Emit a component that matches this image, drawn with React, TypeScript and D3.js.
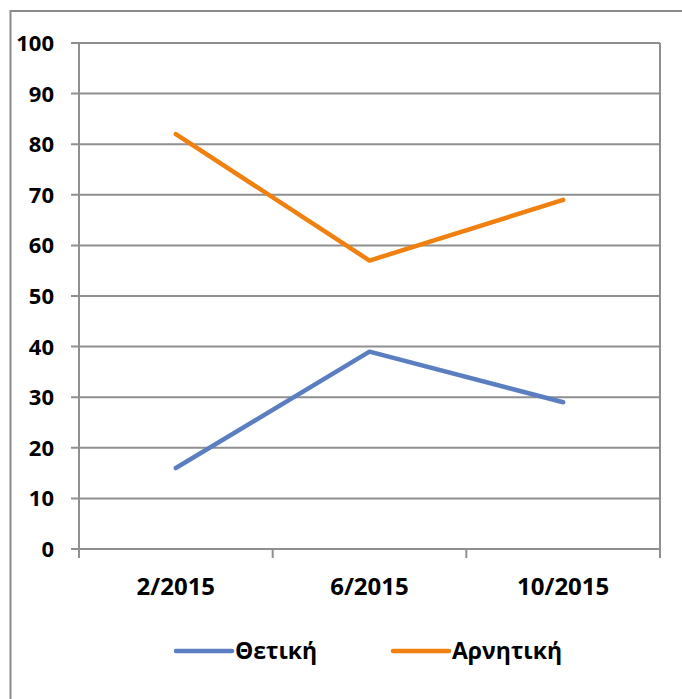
import React from "react";
import * as d3 from "d3";

const categories = ["2/2015", "6/2015", "10/2015"];
const positiveValues = [16, 39, 29];
const negativeValues = [82, 57, 69];
const yTicks = [0, 10, 20, 30, 40, 50, 60, 70, 80, 90, 100];
const seriesNames = ["Θετική", "Αρνητική"];
const seriesColors = ["#5B7EC1", "#F08010"];

export default function App() {
  const W = 682, H = 699;
  const left = 79, right = 660, top = 43, bottom = 549;
  const x = d3.scaleBand<string>().domain(categories).range([left, right]).paddingInner(0).paddingOuter(0);
  const y = d3.scaleLinear().domain([0, 100]).range([bottom, top]);
  const line = d3.line<number>().x((_, i) => (x(categories[i]) as number) + x.bandwidth() / 2).y((d) => y(d));
  const series = [positiveValues, negativeValues];
  const boundaries = [...categories.map((c) => x(c) as number), right];
  const grid = "#8F8F8F";
  const font = "'Open Sans', sans-serif";
  const legendX = [176, 393];
  return (
    <svg width={W} height={H} style={{ position: "absolute", left: 0, top: 0 }} fontFamily={font}>
      <rect x={0} y={0} width={W} height={H} fill="#fff" />
      <rect x={10.5} y={11} width={W + 20} height={H + 20} fill="none" stroke="#8A8A8A" strokeWidth={2} />
      {yTicks.map((t) => (
        <g key={t}>
          <line x1={left - 8} x2={right} y1={y(t)} y2={y(t)} stroke={grid} strokeWidth={2} />
          <text x={54} y={y(t)} dy="0.36em" textAnchor="end" fontSize={22} fontWeight={700} fill="#000">{t}</text>
        </g>
      ))}
      <line x1={left} x2={left} y1={top} y2={bottom} stroke={grid} strokeWidth={2} />
      <line x1={right} x2={right} y1={top} y2={bottom} stroke={grid} strokeWidth={2} />
      {boundaries.map((b, i) => (
        <line key={i} x1={b} x2={b} y1={bottom} y2={bottom + 9} stroke={grid} strokeWidth={2} />
      ))}
      {categories.map((c) => (
        <text key={c} x={(x(c) as number) + x.bandwidth() / 2} y={595} textAnchor="middle" fontSize={24} fontWeight={700} fill="#000">{c}</text>
      ))}
      {series.map((s, i) => (
        <path key={i} d={line(s) || ""} fill="none" stroke={seriesColors[i]} strokeWidth={4.5} strokeLinejoin="round" strokeLinecap="round" />
      ))}
      {seriesNames.map((n, i) => (
        <g key={n}>
          <line x1={legendX[i]} x2={legendX[i] + 56} y1={651} y2={651} stroke={seriesColors[i]} strokeWidth={4.5} strokeLinecap="round" />
          <text x={legendX[i] + 59} y={651} dy="0.36em" fontSize={23} fontWeight={700} fill="#000">{n}</text>
        </g>
      ))}
    </svg>
  );
}
